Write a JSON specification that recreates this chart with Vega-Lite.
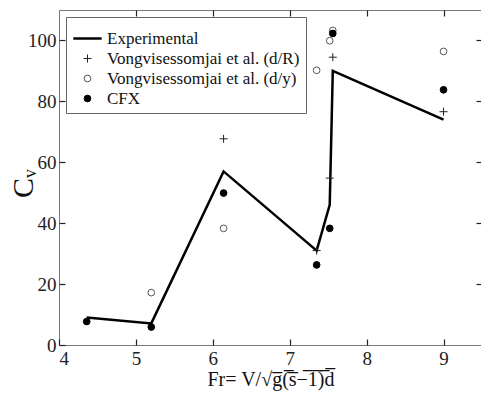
{
  "$schema": "https://vega.github.io/schema/vega-lite/v6.json",
  "autosize": "none",
  "width": 423,
  "height": 335,
  "padding": {"left": 59, "top": 10, "right": 0, "bottom": 51},
  "background": "white",
  "config": {
    "font": "Liberation Serif, DejaVu Serif, serif",
    "view": {"stroke": "#777", "strokeWidth": 1},
    "axis": {
      "grid": false,
      "domain": false,
      "ticks": true,
      "zindex": 2,
      "tickColor": "#222",
      "tickWidth": 1.2,
      "tickSize": 6,
      "offset": -6,
      "labelFont": "Liberation Serif, DejaVu Serif, serif",
      "labelFontSize": 19,
      "labelColor": "#222",
      "titleFont": "Liberation Serif, DejaVu Serif, serif",
      "titleFontWeight": "normal",
      "titleColor": "#111"
    },
    "legend": {"labelFont": "Liberation Serif, DejaVu Serif, serif", "zindex": 3}
  },
  "data": {
    "values": [
      {"Fr": 4.36, "Cv": 9.0, "series": "Experimental"},
      {"Fr": 5.2, "Cv": 7.1, "series": "Experimental"},
      {"Fr": 6.14, "Cv": 57.0, "series": "Experimental"},
      {"Fr": 7.35, "Cv": 31.0, "series": "Experimental"},
      {"Fr": 7.52, "Cv": 46.0, "series": "Experimental"},
      {"Fr": 7.56, "Cv": 90.0, "series": "Experimental"},
      {"Fr": 9.0, "Cv": 74.0, "series": "Experimental"},
      {"Fr": 6.14, "Cv": 67.7, "series": "Vongvisessomjai et al. (d/R)"},
      {"Fr": 7.35, "Cv": 31.0, "series": "Vongvisessomjai et al. (d/R)"},
      {"Fr": 7.52, "Cv": 54.8, "series": "Vongvisessomjai et al. (d/R)"},
      {"Fr": 7.56, "Cv": 94.5, "series": "Vongvisessomjai et al. (d/R)"},
      {"Fr": 9.0, "Cv": 76.6, "series": "Vongvisessomjai et al. (d/R)"},
      {"Fr": 5.2, "Cv": 17.2, "series": "Vongvisessomjai et al. (d/y)"},
      {"Fr": 6.14, "Cv": 38.3, "series": "Vongvisessomjai et al. (d/y)"},
      {"Fr": 7.35, "Cv": 90.2, "series": "Vongvisessomjai et al. (d/y)"},
      {"Fr": 7.52, "Cv": 99.9, "series": "Vongvisessomjai et al. (d/y)"},
      {"Fr": 7.56, "Cv": 103.3, "series": "Vongvisessomjai et al. (d/y)"},
      {"Fr": 9.0, "Cv": 96.4, "series": "Vongvisessomjai et al. (d/y)"},
      {"Fr": 4.36, "Cv": 7.7, "series": "CFX"},
      {"Fr": 5.2, "Cv": 5.9, "series": "CFX"},
      {"Fr": 6.14, "Cv": 49.9, "series": "CFX"},
      {"Fr": 7.35, "Cv": 26.3, "series": "CFX"},
      {"Fr": 7.52, "Cv": 38.3, "series": "CFX"},
      {"Fr": 7.56, "Cv": 102.3, "series": "CFX"},
      {"Fr": 9.0, "Cv": 83.8, "series": "CFX"}
    ]
  },
  "layer": [
    {
      "transform": [{"filter": "datum.series === 'Experimental'"}],
      "mark": {"type": "line", "color": "black", "strokeWidth": 2.5},
      "encoding": {
        "x": {"field": "Fr", "type": "quantitative", "scale": {"domain": [4, 9.5], "nice": false, "zero": false},
          "axis": {"values": [4, 5, 6, 7, 8, 9], "title": "Fr= V/√g̅(̅s̅−̅1̅)̅d̅", "titleFontSize": 20, "titlePadding": 1, "labelPadding": 4}},
        "y": {"field": "Cv", "type": "quantitative", "scale": {"domain": [0, 110], "nice": false},
          "axis": {"values": [0, 20, 40, 60, 80, 100], "title": "Cᵥ", "titleFontSize": 30, "titleX": -27, "titleY": 173, "labelPadding": 3}}
      }
    },
    {
      "transform": [{"filter": "datum.series !== 'Experimental'"}],
      "mark": {"type": "point", "opacity": 1},
      "encoding": {
        "x": {"field": "Fr", "type": "quantitative", "axis": {"orient": "top", "values": [5, 6, 7, 8, 9], "labels": false, "title": null}},
        "y": {"field": "Cv", "type": "quantitative", "axis": {"orient": "right", "values": [20, 40, 60, 80, 100], "labels": false, "title": null}},
        "shape": {"field": "series", "type": "nominal",
          "scale": {"domain": ["Experimental", "Vongvisessomjai et al. (d/R)", "Vongvisessomjai et al. (d/y)", "CFX"],
                    "range": ["stroke", "M-1,0H1M0,-1V1", "circle", "circle"]},
          "legend": {"title": null, "orient": "top-left", "offset": 7, "padding": 6,
            "strokeColor": "#666", "fillColor": "white", "labelFontSize": 17, "labelLimit": 400,
            "labelColor": "#111", "rowPadding": 2, "labelOffset": 4}},
        "fill": {"field": "series", "type": "nominal",
          "scale": {"domain": ["Experimental", "Vongvisessomjai et al. (d/R)", "Vongvisessomjai et al. (d/y)", "CFX"],
                    "range": ["transparent", "transparent", "transparent", "black"]}},
        "stroke": {"field": "series", "type": "nominal",
          "scale": {"domain": ["Experimental", "Vongvisessomjai et al. (d/R)", "Vongvisessomjai et al. (d/y)", "CFX"],
                    "range": ["black", "#222", "#555", "black"]}},
        "size": {"field": "series", "type": "nominal",
          "scale": {"type": "ordinal", "domain": ["Experimental", "Vongvisessomjai et al. (d/R)", "Vongvisessomjai et al. (d/y)", "CFX"],
                    "range": [800, 64, 45, 45]}},
        "strokeWidth": {"field": "series", "type": "nominal",
          "scale": {"type": "ordinal", "domain": ["Experimental", "Vongvisessomjai et al. (d/R)", "Vongvisessomjai et al. (d/y)", "CFX"],
                    "range": [2.5, 1, 1, 1]}}
      }
    }
  ],
  "resolve": {"axis": {"x": "independent", "y": "independent"}}
}
